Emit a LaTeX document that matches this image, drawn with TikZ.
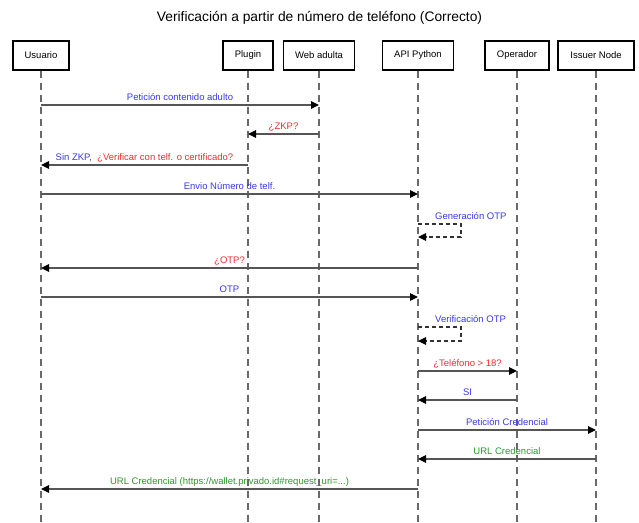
\documentclass[tikz,border=0pt]{standalone}
\usepackage{fontspec}
\setmainfont{Liberation Sans}
\usetikzlibrary{arrows.meta}
\definecolor{msgblue}{RGB}{55,55,240}
\definecolor{msgred}{RGB}{235,45,45}
\definecolor{msggreen}{RGB}{45,150,45}
\definecolor{lifegray}{RGB}{105,105,105}
\definecolor{msggray}{RGB}{85,85,85}
\begin{document}
\begin{tikzpicture}[x=1pt,y=-1pt,
  actor/.style={draw=black, line width=1.4pt, fill=white, minimum height=29pt,
    inner sep=0pt, font=\fontsize{9.5}{11}\selectfont},
  lifeline/.style={draw=lifegray, line width=1.3pt, dash pattern=on 7pt off 5pt},
  msg/.style={draw=msggray, line width=1.1pt,
    -{Triangle[length=8pt,width=7.5pt,color=black]}},
  selfmsg/.style={draw=black!80, line width=1.1pt, dash pattern=on 4pt off 3pt,
    -{Triangle[length=8pt,width=7.5pt,color=black]}},
  lbl/.style={font=\fontsize{9.5}{11}\selectfont, inner sep=0pt, anchor=base, yshift=4.5pt},
  sidelbl/.style={font=\fontsize{9.5}{11}\selectfont, inner sep=0pt, anchor=base west},
]
\useasboundingbox (0,0) rectangle (639,522);

% title
\node[font=\fontsize{13.8}{16}\selectfont] (title) at (319.5,18)
  {Verificación a partir de número de teléfono (Correcto)};

% participants
\node[actor, minimum width=56pt] (usr) at (41,55.5)  {Usuario};
\node[actor, minimum width=50pt] (plg) at (248,55.5) {Plugin};
\node[actor, minimum width=71pt] (web) at (319,55.5) {Web adulta};
\node[actor, minimum width=71pt] (api) at (418,55.5) {API Python};
\node[actor, minimum width=64pt] (ope) at (517,55.5) {Operador};
\node[actor, minimum width=76pt] (iss) at (596,55.5) {Issuer Node};

% lifelines
\foreach \p in {usr,plg,web,api,ope,iss}{
  \coordinate (\p-end) at (\p |- 0,522);
  \draw[lifeline] (\p.south) -- (\p-end);
}

% messages
\draw[msg] (usr |- 0,105) -- node[lbl, text=msgblue] {Petición contenido adulto} (web |- 0,105);
\draw[msg] (web |- 0,134) -- node[lbl, text=msgred] {¿ZKP?} (plg |- 0,134);
\draw[msg] (plg |- 0,165) -- node[lbl] {\textcolor{msgblue}{Sin ZKP,}\ \ \textcolor{msgred}{¿Verificar con telf. o certificado?}} (usr |- 0,165);
\draw[msg] (usr |- 0,194) -- node[lbl, text=msgblue] {Envio Número de telf.} (api |- 0,194);

\draw[selfmsg] (api |- 0,224) -- ++(43,0) -- ++(0,13) -- (api |- 0,237);
\node[sidelbl, text=msgblue] (gen) at (435,219.5) {Generación OTP};

\draw[msg] (api |- 0,268) -- node[lbl, text=msgred] {¿OTP?} (usr |- 0,268);
\draw[msg] (usr |- 0,297) -- node[lbl, text=msgblue] {OTP} (api |- 0,297);

\draw[selfmsg] (api |- 0,327) -- ++(43,0) -- ++(0,14) -- (api |- 0,341);
\node[sidelbl, text=msgblue] (ver) at (435,322.5) {Verificación OTP};

\draw[msg] (api |- 0,371) -- node[lbl, text=msgred] {¿Teléfono > 18?} (ope |- 0,371);
\draw[msg] (ope |- 0,400) -- node[lbl, text=msgblue] {SI} (api |- 0,400);
\draw[msg] (api |- 0,430) -- node[lbl, text=msgblue] {Petición Credencial} (iss |- 0,430);
\draw[msg] (iss |- 0,459) -- node[lbl, text=msggreen] {URL Credencial} (api |- 0,459);
\draw[msg] (api |- 0,489) -- node[lbl, text=msggreen]
  {URL Credencial (https://wallet.privado.id\#request\_uri=...)} (usr |- 0,489);
\end{tikzpicture}
\end{document}
